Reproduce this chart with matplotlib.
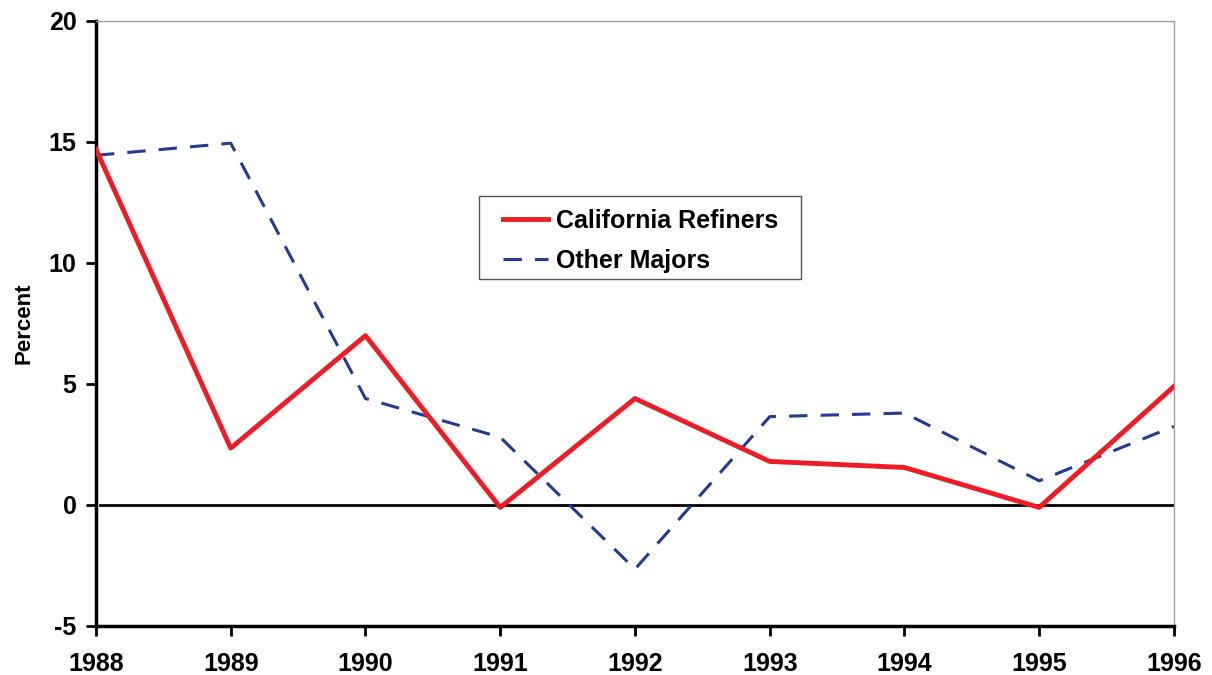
import matplotlib.pyplot as plt
from matplotlib.patches import Rectangle

years = [1988, 1989, 1990, 1991, 1992, 1993, 1994, 1995, 1996]
california = [14.7, 2.35, 7.0, -0.1, 4.4, 1.8, 1.55, -0.1, 4.9]
other_majors = [14.45, 14.95, 4.4, 2.8, -2.65, 3.65, 3.8, 1.0, 3.25]

plt.rcParams['font.family'] = ['Liberation Sans', 'DejaVu Sans']
plt.rcParams['font.weight'] = 'bold'
plt.rcParams['axes.unicode_minus'] = False

fig = plt.figure(figsize=(12.12, 6.75), dpi=100)
ax = fig.add_axes([0.0792, 0.0726, 0.8894, 0.8963])

ax.axhline(0, xmin=0.004, color='black', lw=2, zorder=1)
ax.plot(years, california, color='#ee1c25', lw=3.5, label='California Refiners', zorder=3)
ax.plot(years, other_majors, color='#233a96', lw=2.2, dashes=(6, 4.3), label='Other Majors', zorder=2)

ax.set_xlim(1988, 1996)
ax.set_ylim(-5, 20)
ax.set_xticks(years)
ax.set_yticks([-5, 0, 5, 10, 15, 20])
ax.set_ylabel('Percent', fontsize=16, fontweight='bold', labelpad=10)

ax.tick_params(direction='out', length=7, width=2, labelsize=18)
ax.tick_params(axis='x', pad=12)
ax.tick_params(axis='y', pad=7)
for side in ['left', 'bottom']:
    ax.spines[side].set_linewidth(2.5)
for side in ['top', 'right']:
    ax.spines[side].set_color('#a0a0a0')
    ax.spines[side].set_linewidth(1)

# legend box drawn separately so the padding can be wider than it is tall
ax.add_patch(Rectangle((0.3553, 0.5736), 0.2987, 0.1371, transform=ax.transAxes,
                       facecolor='white', edgecolor='#555555', lw=1, zorder=4))
leg = ax.legend(loc='upper left', bbox_to_anchor=(0.3776, 0.690), fontsize=18,
                frameon=False, handlelength=1.8, handletextpad=0.3, borderpad=0,
                labelspacing=0.65, borderaxespad=0)
leg.set_zorder(5)

fig.savefig('out.png', dpi=100)
